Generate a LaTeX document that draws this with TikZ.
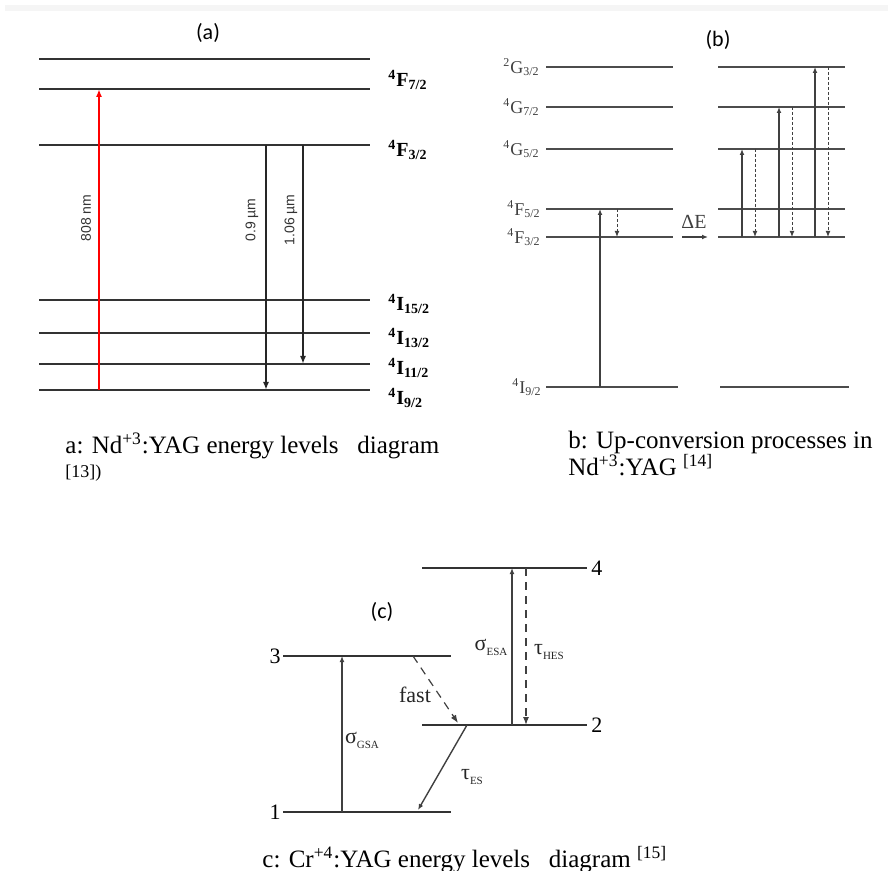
\documentclass[tikz,border=0pt]{standalone}
\usepackage{fontspec}
\setmainfont{Liberation Serif}
\newfontfamily\calibfont{Carlito}
\newfontfamily\arialfont{Liberation Sans}
\usetikzlibrary{arrows.meta, positioning, calc}

% spectroscopic term: superscript, letter, subscript
\newcommand{\term}[3]{\textsuperscript{#1}#2\textsubscript{#3}}
\newcommand{\cross}[2]{#1\raisebox{-0.5ex}{\fontsize{5.5}{6}\selectfont #2}}

\begin{document}
\begin{tikzpicture}[x=0.5pt, y=-0.5pt,
  levelA/.style={line width=1.3pt, black!80},
  levelB/.style={line width=0.9pt, black!70},
  levelC/.style={line width=0.7pt, black!80},
  termA/.style={anchor=west, font=\fontsize{10}{12}\selectfont\bfseries, inner sep=0pt},
  termB/.style={anchor=east, font=\fontsize{9}{11}\selectfont, text=black!75, inner sep=0pt},
  numC/.style={font=\fontsize{11}{12}\selectfont, inner sep=0pt},
  lblC/.style={font=\fontsize{11}{12}\selectfont, inner sep=0pt, text=black!85},
  tagfont/.style={font=\calibfont\fontsize{11}{13}\selectfont, inner sep=0pt},
  caption/.style={anchor=base west, font=\fontsize{12.5}{12}\selectfont, inner sep=0pt},
  wavelen/.style={rotate=90, font=\arialfont\fontsize{7}{8}\selectfont, inner sep=0pt, text=black!80},
  arrow/.style={-{Latex[length=4pt,width=3pt]}, line width=0.8pt, black!85},
  thinarrow/.style={-{Latex[length=3pt,width=2.4pt]}, line width=0.7pt, black!75},
  dotarrow/.style={thinarrow, line width=0.5pt, dash pattern=on 1.5pt off 1pt},
  dasharrow/.style={-{Latex[length=4pt,width=3pt]}, line width=0.6pt, dash pattern=on 4pt off 3pt, black!75},
]
\useasboundingbox (0,0) rectangle (888,871);
\fill[black!4] (5,5) rectangle (888,11);

% (a) Nd:YAG levels
\node[tagfont] (tagA) at (208,33) {(a)};
\foreach \y/\n in {59/top,89/F7,145/F3,300/I15,333/I13,364/I11,390/I9}{
  \draw[levelA] (39,\y) -- (370,\y);
  \coordinate (a\n) at (370,\y);
}
\node[termA] (tF7) at (388,80) {\term{4}{F}{7/2}};
\node[termA] (tF3) at (388,150) {\term{4}{F}{3/2}};
\node[termA] (tI15) at (388,304) {\term{4}{I}{15/2}};
\node[termA] (tI13) at (388,338) {\term{4}{I}{13/2}};
\node[termA] (tI11) at (388,368) {\term{4}{I}{11/2}};
\node[termA] (tI9) at (388,398) {\term{4}{I}{9/2}};

\coordinate (x808) at (99,0);
\draw[arrow, red, line width=1pt] (x808 |- aI9) -- (x808 |- aF7);
\node[wavelen] (w808) at (86,218) {808 nm};
\coordinate (x09) at (266,0);
\draw[arrow] (x09 |- aF3) -- (x09 |- aI9);
\node[wavelen] (w09) at (252,220) {0.9 µm};
\coordinate (x106) at (303,0);
\draw[arrow] (x106 |- aF3) -- (x106 |- aI11);
\node[wavelen] (w106) at (291,220) {1.06 µm};

% (b) up-conversion
\node[tagfont] (tagB) at (718,40) {(b)};
\foreach \y/\n in {67/G3,107/G7,149/G5,209/F5,237/F3}{
  \draw[levelB] (546,\y) -- (673,\y);
  \draw[levelB] (718,\y) -- (845,\y);
  \coordinate (bL\n) at (546,\y);
  \coordinate (bR\n) at (718,\y);
}
\draw[levelB] (546,387) -- (678,387);
\draw[levelB] (720,387) -- (849,387);
\coordinate (bLI9) at (546,387);
\node[termB] (tG3) at (540,67) {\term{2}{G}{3/2}};
\node[termB] (tG7) at (540,107) {\term{4}{G}{7/2}};
\node[termB] (tG5) at (540,149) {\term{4}{G}{5/2}};
\node[termB] (tF5) at (541,209) {\term{4}{F}{5/2}};
\node[termB] (tF3b) at (541,237) {\term{4}{F}{3/2}};
\node[termB] (tI9b) at (542,387) {\term{4}{I}{9/2}};

\coordinate (xp) at (600,0);
\draw[thinarrow] (xp |- bLI9) -- (xp |- bLF5);
\coordinate (xr) at (617,0);
\draw[dotarrow] (xr |- bLF5) -- (xr |- bLF3);

\node[font=\fontsize{10}{12}\selectfont, text=black!75, inner sep=0pt] (dE) at (694,222) {ΔE};
\coordinate (dEa) at (682,237);
\coordinate (dEb) at (708,237);
\draw[thinarrow] (dEa) -- (dEb);

\foreach \x/\t in {742/G5,779/G7,815/G3}{
  \coordinate (up) at (\x,0);
  \coordinate (dn) at (\x+13,0);
  \draw[thinarrow] (up |- bRF3) -- (up |- bR\t);
  \draw[dotarrow] (dn |- bR\t) -- (dn |- bRF3);
}

% (c) Cr:YAG four levels
\node[tagfont] (tagC) at (382,612) {(c)};
\coordinate (c4) at (422,568);
\coordinate (c3) at (283,656);
\coordinate (c2) at (422,725);
\coordinate (c1) at (283,812);
\draw[levelC] (c4) -- ++(165,0);
\draw[levelC] (c3) -- ++(168,0);
\draw[levelC] (c2) -- ++(165,0);
\draw[levelC] (c1) -- ++(168,0);
\node[numC, anchor=west] (n4) at (591,568) {4};
\node[numC, anchor=east] (n3) at (281,656) {3};
\node[numC, anchor=west] (n2) at (591,725) {2};
\node[numC, anchor=east] (n1) at (281,812) {1};

\coordinate (xgsa) at (342,0);
\draw[thinarrow] (xgsa |- c1) -- (xgsa |- c3);
\node[lblC] (sgsa) at (362,740) {\cross{σ}{GSA}};
\coordinate (fastA) at (413,656);
\coordinate (fastB) at (458,723);
\draw[dasharrow] (fastA) -- (fastB);
\node[lblC] (fast) at (415,695) {fast};
\coordinate (esA) at (467,725);
\coordinate (esB) at (418,810);
\draw[thinarrow] (esA) -- (esB);
\node[lblC] (tes) at (472,777) {\cross{τ}{ES}};
\coordinate (xesa) at (512,0);
\draw[thinarrow] (xesa |- c2) -- (xesa |- c4);
\node[lblC] (sesa) at (491,647) {\cross{σ}{ESA}};
\coordinate (xhes) at (526,0);
\draw[dasharrow] (xhes |- c4) -- (xhes |- c2);
\node[lblC] (thes) at (549,652) {\cross{τ}{HES}};

% captions
\node[caption] (capA1) at (65,453) {a: Nd\textsuperscript{+3}:YAG energy\ levels\ \ \ diagram};
\node[caption, font=\fontsize{9}{10}\selectfont] (capA2) at (65,477) {[13])};
\node[caption] (capB1) at (568,448) {b: Up-conversion processes in};
\node[caption] (capB2) at (568,475) {Nd\textsuperscript{+3}:YAG \textsuperscript{[14]}};
\node[caption] (capC) at (262,867) {c: Cr\textsuperscript{+4}:YAG energy\ levels\ \ \ diagram \textsuperscript{[15]}};
\end{tikzpicture}
\end{document}
